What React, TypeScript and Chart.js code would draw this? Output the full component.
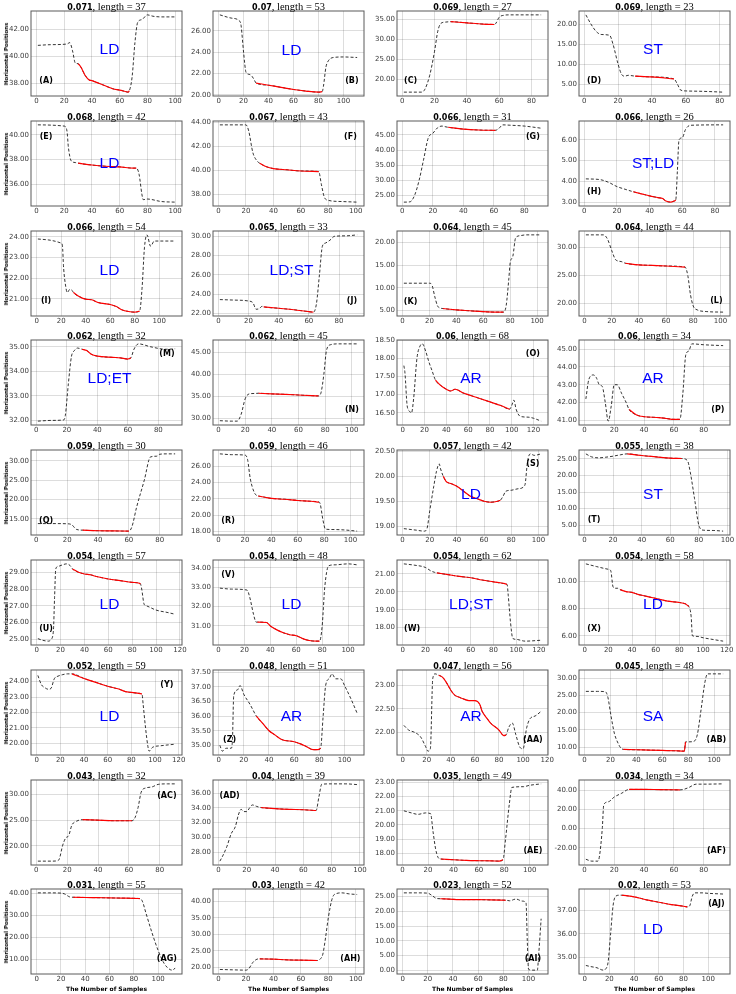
import React, { useEffect, useRef } from "react";
import { Chart, registerables } from "chart.js";
Chart.register(...registerables);

// ---------------- DATA ----------------
const letters = ["A","B","C","D","E","F","G","H","I","J","K","L","M","N","O","P","Q","R","S","T","U","V","W","X","Y","Z","AA","AB","AC","AD","AE","AF","AG","AH","AI","AJ"];
const scores = ["0.071","0.07","0.069","0.069","0.068","0.067","0.066","0.066","0.066","0.065","0.064","0.064","0.062","0.062","0.06","0.06","0.059","0.059","0.057","0.055","0.054","0.054","0.054","0.054","0.052","0.048","0.047","0.045","0.043","0.04","0.035","0.034","0.031","0.03","0.023","0.02"];
const lengths = [37,53,27,23,42,43,31,26,54,33,45,44,32,45,68,34,30,46,42,38,57,48,62,58,59,51,56,48,32,39,49,34,55,42,52,53];
const tags = ["LD","LD","","ST","LD","","","ST;LD","LD","LD;ST","","","LD;ET","","AR","AR","","","LD","ST","LD","LD","LD;ST","LD","LD","AR","AR","SA","","","","","","","","LD"];
const yTickSteps = [2,2,5,5,2,2,5,1,1,2,5,5,1,5,0.5,1,5,2,0.5,5,1,1,1,2,1,0.5,0.5,5,5,2,1,20,10,5,5,1];
const xTickStep = 20;
const redStart = 30;

const sA = [[1,40.8],[10,40.85],[22,40.9],[24,41.0],[26,40.4],[28,39.5],[30,39.45],[32,39.2],[35,38.6],[38,38.25],[40,38.2],[45,38.0],[50,37.8],[55,37.6],[60,37.5],[64,37.4],[66,37.35],[67,37.45],[69,38.5],[71,41.0],[73,42.5],[76,42.7],[80,43.05],[84,42.95],[90,42.9],[100,42.9]];
const sB = [[1,27.5],[10,27.2],[17,26.9],[18,26.5],[20,24.0],[22,22.1],[25,21.9],[27,21.7],[29,21.3],[30,21.1],[40,20.9],[50,20.7],[60,20.5],[70,20.35],[80,20.25],[83,20.3],[84,20.8],[86,22.6],[88,23.2],[92,23.5],[100,23.55],[111,23.5]];
const sC = [[1,16.8],[12,16.8],[14,17.5],[17,21],[20,27],[22,32],[24,34],[27,34.3],[30,34.4],[40,34.1],[50,33.8],[57,33.7],[58,34],[60,35.5],[63,36],[66,36.1],[86,36.1]];
const sD = [[1,22.3],[4,20],[7,18.2],[10,17.4],[15,17.2],[17,15],[20,10],[22,7.5],[24,7],[26,7.2],[30,7.0],[40,6.8],[53,6.3],[55,5],[57,3.5],[60,3.3],[70,3.2],[82,3.0]];
const sE = [[1,40.8],[20,40.7],[22,40.3],[23,39],[25,37.9],[28,37.75],[30,37.7],[40,37.55],[50,37.45],[60,37.4],[70,37.3],[72,37.3],[74,36.8],[76,35.2],[77,34.75],[80,34.8],[90,34.6],[100,34.55]];
const sF = [[1,43.8],[20,43.8],[22,43.3],[25,41.5],[28,40.8],[30,40.6],[35,40.3],[40,40.15],[50,40.05],[60,39.95],[73,39.9],[75,38.8],[77,37.8],[80,37.5],[90,37.4],[101,37.35]];
const sG = [[1,22.8],[5,22.9],[8,25],[11,30],[14,37],[17,44],[20,45.5],[23,47.3],[26,47.9],[28,47.7],[30,47.5],[40,46.9],[50,46.6],[61,46.5],[63,47],[66,48.3],[70,48.2],[80,47.9],[91,47.2]];
const sH = [[1,4.12],[10,4.08],[15,3.95],[20,3.75],[25,3.62],[30,3.5],[35,3.4],[40,3.3],[45,3.22],[48,3.17],[50,3.05],[53,3.0],[55,3.05],[56,3.1],[57,4.5],[58,6.0],[60,6.1],[62,6.5],[65,6.7],[85,6.72]];
const sI = [[1,23.9],[10,23.85],[20,23.7],[21,23.6],[22,22.5],[24,21.5],[25,21.3],[27,21.45],[29,21.4],[30,21.3],[35,21.1],[40,20.98],[45,20.95],[50,20.82],[60,20.72],[65,20.62],[70,20.45],[75,20.38],[80,20.35],[84,20.4],[86,21.5],[88,23.5],[90,24.1],[93,23.55],[96,23.8],[100,23.8],[113,23.8]];
const sJ = [[1,23.45],[10,23.4],[20,23.3],[23,23.1],[25,22.45],[27,22.5],[29,22.75],[30,22.7],[40,22.55],[50,22.4],[60,22.2],[63,22.15],[65,23],[67,26],[69,29.0],[71,29.3],[74,29.6],[77,30.0],[85,30.05],[92,30.15]];
const sK = [[1,11.0],[20,11.0],[22,10.5],[24,8],[26,6],[28,5.5],[30,5.4],[40,5.1],[50,4.9],[60,4.7],[70,4.6],[75,4.6],[77,6],[79,12],[80,15.5],[82,17],[84,21],[87,21.5],[92,21.7],[103,21.7]];
const sL = [[1,32.3],[14,32.3],[17,31.5],[20,29.5],[23,27.8],[27,27.5],[30,27.2],[40,26.9],[50,26.8],[60,26.7],[74,26.5],[76,25],[78,21.5],[80,19.5],[83,18.8],[90,18.5],[102,18.4]];
const sM = [[1,31.97],[10,32.0],[18,32.02],[19,32.2],[21,33.5],[23,34.6],[25,34.85],[27,34.95],[30,34.9],[33,34.85],[36,34.7],[40,34.62],[50,34.57],[55,34.55],[60,34.5],[62,34.55],[64,34.9],[67,35.12],[75,35.0],[85,34.9],[91,34.92]];
const sN = [[1,29.5],[10,29.4],[14,29.4],[17,31],[20,34.5],[23,35.6],[27,35.7],[30,35.75],[40,35.6],[50,35.5],[60,35.35],[70,35.2],[75,35.15],[77,36],[79,40],[81,45.5],[84,46.8],[90,47],[104,47]];
const sO = [[1,17.8],[2,17.6],[4,16.7],[6,16.55],[8,16.5],[10,16.9],[13,18.0],[16,18.35],[18,18.4],[21,18.2],[24,17.9],[27,17.65],[30,17.4],[35,17.25],[40,17.15],[44,17.1],[48,17.15],[51,17.12],[55,17.05],[60,17.0],[65,16.95],[70,16.9],[80,16.8],[90,16.7],[98,16.6],[100,16.7],[102,16.85],[104,16.6],[108,16.4],[115,16.38],[120,16.35],[127,16.27]];
const sP = [[1,42.2],[3,43.3],[6,43.55],[8,43.4],[10,43.0],[12,42.9],[14,42],[16,40.95],[18,41.8],[20,43.0],[22,43.0],[25,42.5],[28,42.0],[30,41.6],[35,41.3],[40,41.2],[50,41.15],[55,41.1],[60,41.05],[64,41.05],[66,42.5],[68,44.7],[70,44.9],[72,45.3],[80,45.25],[93,45.2]];
const sQ = [[1,13.8],[10,13.8],[20,13.75],[23,13.5],[26,12.3],[30,12.1],[40,11.95],[50,11.9],[60,11.85],[62,13],[65,18],[70,25],[74,31],[78,31.2],[80,31.7],[85,31.8],[90,31.8]];
const sR = [[1,27.5],[10,27.4],[20,27.35],[22,26.8],[24,24.5],[27,22.8],[29,22.4],[30,22.35],[35,22.2],[40,22.05],[50,21.95],[60,21.8],[70,21.7],[76,21.6],[77,21.4],[79,19.5],[81,18.3],[85,18.25],[95,18.2],[105,18.05]];
const sS = [[1,18.95],[10,18.92],[16,18.9],[18,18.95],[20,19.3],[23,19.8],[25,20.1],[27,20.25],[28,20.15],[30,20.0],[32,19.9],[36,19.85],[40,19.8],[45,19.7],[50,19.6],[55,19.55],[60,19.5],[65,19.48],[70,19.5],[72,19.52],[74,19.6],[76,19.7],[80,19.72],[85,19.75],[90,19.82],[92,20.3],[94,20.45],[97,20.42],[102,20.45]];
const sT = [[1,26.5],[5,25.6],[10,25.3],[15,25.5],[20,25.8],[25,26.2],[30,26.5],[40,26.0],[50,25.6],[60,25.2],[68,25.1],[72,24.5],[74,21],[77,13],[80,5],[83,3.5],[90,3.4],[97,3.2]];
const sU = [[1,25.05],[5,24.95],[10,24.9],[12,25],[14,25.5],[15,27.5],[16,29.2],[18,29.35],[22,29.45],[25,29.5],[28,29.4],[30,29.2],[35,29.0],[40,28.9],[45,28.85],[50,28.75],[60,28.6],[70,28.5],[80,28.4],[86,28.35],[87,28.3],[88,28.0],[90,27.1],[92,27.0],[100,26.75],[110,26.6],[116,26.5]];
const sV = [[1,32.95],[10,32.9],[22,32.85],[24,32.5],[27,31.6],[29,31.2],[30,31.2],[37,31.18],[40,31.0],[45,30.8],[50,30.65],[55,30.55],[60,30.5],[65,30.35],[70,30.25],[76,30.22],[78,30.22],[80,31],[82,33],[85,34.1],[90,34.15],[100,34.2],[107,34.15]];
const sW = [[1,21.55],[10,21.48],[20,21.35],[25,21.15],[28,21.08],[30,21.05],[40,20.95],[50,20.85],[60,20.78],[70,20.65],[80,20.55],[90,20.45],[92,20.4],[93,19.8],[95,18.3],[97,17.4],[100,17.35],[108,17.25],[122,17.3]];
const sX = [[1,11.3],[10,11.1],[20,10.9],[22,10.8],[24,9.6],[26,9.5],[28,9.5],[30,9.4],[35,9.25],[40,9.2],[45,9.05],[50,8.95],[55,8.85],[60,8.75],[70,8.55],[80,8.45],[85,8.35],[88,8.15],[90,7.4],[91,6.0],[95,5.95],[100,5.85],[110,5.7],[117,5.6]];
const sY = [[1,24.4],[4,23.8],[7,23.6],[10,23.5],[12,23.55],[15,24.2],[18,24.35],[22,24.45],[26,24.5],[30,24.5],[40,24.2],[50,23.95],[60,23.7],[65,23.6],[70,23.5],[75,23.35],[80,23.3],[85,23.25],[89,23.2],[90,22.5],[92,21],[94,19.8],[95,19.5],[98,19.75],[105,19.85],[117,19.95]];
const sZ = [[1,35.0],[3,34.8],[6,34.9],[10,34.9],[11,35.2],[12,36.7],[15,36.9],[17,37.05],[20,36.75],[25,36.4],[30,36.0],[35,35.75],[40,35.5],[45,35.35],[50,35.2],[60,35.12],[65,35.05],[70,34.95],[75,34.85],[79,34.85],[81,34.9],[83,36],[85,37.05],[88,37.3],[90,37.45],[93,37.28],[97,37.28],[100,37.05],[105,36.6],[110,36.1]];
const sAA = [[1,22.15],[5,22.05],[10,22.0],[15,21.9],[19,21.7],[21,21.6],[23,21.65],[25,23.15],[27,23.25],[30,23.22],[33,23.18],[36,23.08],[40,22.9],[43,22.8],[47,22.75],[50,22.72],[55,22.68],[60,22.68],[64,22.6],[66,22.45],[70,22.3],[73,22.2],[80,22.05],[84,21.93],[86,21.95],[88,22.1],[91,22.2],[94,21.95],[97,21.7],[100,21.65],[103,22.1],[106,22.3],[110,22.35],[115,22.45]];
const sAB = [[1,26.2],[10,26.2],[16,26.1],[18,24.5],[20,20],[23,14],[26,11],[28,9.7],[30,9.3],[40,9.2],[50,9.1],[60,9.0],[70,8.9],[77,8.8],[78,11.5],[80,11.5],[84,11.6],[87,13.5],[90,21],[93,29],[95,31.3],[100,31.3],[107,31.3]];
const sAC = [[1,17.0],[10,17.0],[14,17.1],[15,17.5],[17,20],[19,21.5],[21,22],[23,24],[26,24.8],[30,25.1],[40,25.0],[50,24.9],[62,24.9],[64,25.5],[66,27.5],[68,30.5],[71,31.3],[75,31.5],[79,32.0],[85,32.1],[90,32.1]];
const sAD = [[1,26.8],[3,27.5],[6,28.8],[9,30.5],[12,31.5],[14,33],[16,33.8],[18,33.5],[20,33.5],[22,34.0],[24,34.4],[27,34.2],[30,34.05],[40,33.9],[50,33.8],[60,33.75],[69,33.65],[71,35.5],[73,37.2],[80,37.25],[90,37.25],[98,37.15]];
const sAE = [[1,21.0],[7,20.85],[12,20.75],[18,20.85],[22,20.8],[24,19.5],[26,18.3],[28,17.7],[30,17.6],[40,17.55],[50,17.5],[60,17.48],[70,17.47],[76,17.45],[79,17.55],[81,19],[84,21.5],[86,22.65],[95,22.7],[100,22.8],[109,22.9]];
const sAF = [[1,-32],[5,-34],[9,-34],[10,-30],[12,0],[13,25],[16,28],[20,33],[25,37],[30,41],[40,41.0],[50,40.8],[64,40.5],[66,40.8],[70,43],[75,46.5],[80,46.5],[93,46.8]];
const sAG = [[1,40.3],[10,40.3],[20,40.2],[23,39.8],[27,38.5],[30,38.3],[40,38.2],[50,38.1],[60,38.0],[70,37.9],[80,37.8],[85,37.7],[87,36.5],[90,31],[95,22],[100,14],[105,8],[110,5.2],[112,5.0],[114,6.0]];
const sAH = [[1,19.4],[10,19.3],[20,19.2],[22,19.6],[25,21.5],[28,22.5],[30,22.6],[40,22.5],[50,22.3],[60,22.2],[72,22.1],[74,22.5],[76,24],[78,29],[80,35],[83,41],[86,42.3],[90,42.5],[95,42.2],[101,42.0]];
const sAI = [[1,26.3],[10,26.3],[20,26.2],[23,25.5],[27,24.4],[30,24.3],[40,24.1],[50,24.0],[60,24.0],[70,23.9],[82,23.8],[85,23.6],[90,24.2],[95,23.5],[98,22.9],[99,10],[100,0.3],[103,0.0],[107,0.0],[108,5],[110,17.5]];
const sAJ = [[1,34.65],[5,34.6],[10,34.55],[15,34.45],[17,34.5],[19,34.8],[21,36.0],[23,37.2],[25,37.6],[28,37.65],[30,37.65],[35,37.62],[40,37.58],[45,37.52],[50,37.45],[55,37.4],[60,37.35],[70,37.25],[80,37.18],[83,37.15],[85,37.2],[87,37.6],[89,37.75],[95,37.75],[100,37.73],[112,37.7]];

const seriesList = [sA,sB,sC,sD,sE,sF,sG,sH,sI,sJ,sK,sL,sM,sN,sO,sP,sQ,sR,sS,sT,sU,sV,sW,sX,sY,sZ,sAA,sAB,sAC,sAD,sAE,sAF,sAG,sAH,sAI,sAJ];

// ---------------- LAYOUT ----------------
const BOX_LEFT = [31, 213, 397, 579];
const BOX_W = 151;
const BOX_H = 85;
const BOX_TOP0 = 11;
const ROW_PITCH = 109.8;
const AXIS_W = 31;
const PAD_T = 6;
const PAD_R = 8;
const XAXIS_H = 14;

// tag (blue label) and letter positions in axes fractions [fx, fy from top]
const tagPos = [[.52,.46],[.52,.47],null,[.49,.46],[.52,.5],null,null,[.49,.5],[.52,.47],[.52,.47],null,null,[.52,.46],null,[.49,.46],[.49,.46],null,null,[.49,.53],[.49,.53],[.52,.53],[.52,.53],[.49,.53],[.49,.53],[.52,.55],[.52,.55],[.49,.55],[.49,.55],null,null,null,null,null,null,null,[.49,.48]];
const letterPos = [[.10,.82],[.92,.82],[.09,.82],[.10,.82],[.10,.19],[.91,.19],[.90,.19],[.10,.84],[.10,.82],[.92,.82],[.09,.83],[.91,.82],[.90,.16],[.92,.82],[.90,.16],[.92,.82],[.10,.83],[.10,.83],[.90,.16],[.10,.82],[.10,.81],[.10,.17],[.10,.81],[.10,.81],[.90,.18],[.11,.82],[.90,.82],[.91,.82],[.90,.19],[.11,.19],[.90,.83],[.91,.83],[.90,.82],[.91,.82],[.90,.82],[.91,.17]];

const decorPlugin = {
  id: "panelDecor",
  afterDatasetsDraw(chart: any, _args: any, opts: any) {
    const { ctx, chartArea: a } = chart;
    ctx.save();
    ctx.strokeStyle = "#5a5a5a";
    ctx.lineWidth = 1;
    ctx.strokeRect(a.left, a.top, a.right - a.left, a.bottom - a.top);
    const w = a.right - a.left, h = a.bottom - a.top;
    ctx.textAlign = "center";
    ctx.textBaseline = "middle";
    if (opts.tag && opts.tagPos) {
      ctx.fillStyle = "#0000ff";
      ctx.font = '15.5px "Liberation Sans", Arial, sans-serif';
      ctx.fillText(opts.tag, a.left + opts.tagPos[0] * w, a.top + opts.tagPos[1] * h);
    }
    if (opts.letter) {
      ctx.fillStyle = "#000";
      ctx.font = 'bold 8px "DejaVu Sans", sans-serif';
      ctx.fillText("(" + opts.letter + ")", a.left + opts.letterPos[0] * w, a.top + opts.letterPos[1] * h);
    }
    ctx.restore();
  },
};

function Panel({ i }: { i: number }) {
  const ref = useRef<HTMLCanvasElement>(null);
  const row = Math.floor(i / 4), col = i % 4;
  const boxL = BOX_LEFT[col];
  const boxT = Math.round(BOX_TOP0 + ROW_PITCH * row);
  const CW = AXIS_W + BOX_W + PAD_R;
  const CH = PAD_T + BOX_H + XAXIS_H;

  useEffect(() => {
    const pts = seriesList[i];
    const xs = pts.map((p) => p[0]);
    const ys = pts.map((p) => p[1]);
    const x0 = Math.min(...xs), x1 = Math.max(...xs);
    const y0 = Math.min(...ys), y1 = Math.max(...ys);
    const mx = (x1 - x0) * 0.05, my = (y1 - y0) * 0.05;
    const xmin = x0 - mx, xmax = x1 + mx, ymin = y0 - my, ymax = y1 + my;
    const step = yTickSteps[i];
    const yt: number[] = [];
    for (let k = Math.ceil(ymin / step - 1e-9); k * step <= ymax + 1e-9; k++) yt.push(+(k * step).toFixed(4));
    const xt: number[] = [];
    for (let v = 0; v <= xmax; v += xTickStep) if (v >= xmin) xt.push(v);
    const end = redStart + lengths[i];
    const black = pts.map(([x, y]) => ({ x, y }));
    const red = pts.filter(([x]) => x >= redStart && x <= end).map(([x, y]) => ({ x, y }));

    const tickFont = { family: "DejaVu Sans", size: 7 };
    const chart = new Chart(ref.current as HTMLCanvasElement, {
      type: "line",
      data: {
        datasets: [
          { data: red, borderColor: "#ff0000", borderWidth: 1.15, pointRadius: 0, cubicInterpolationMode: "monotone", order: 0 },
          { data: black, borderColor: "#000000", borderWidth: 0.8, borderDash: [3, 2], pointRadius: 0, cubicInterpolationMode: "monotone", order: 1 },
        ],
      } as any,
      options: {
        animation: false,
        responsive: false,
        devicePixelRatio: window.devicePixelRatio || 1,
        layout: { padding: { top: PAD_T, right: PAD_R, left: 0, bottom: 0 } },
        plugins: {
          legend: { display: false },
          tooltip: { enabled: false },
          title: { display: false },
          panelDecor: { tag: tags[i], tagPos: tagPos[i], letter: letters[i], letterPos: letterPos[i] },
        } as any,
        scales: {
          x: {
            type: "linear",
            min: xmin,
            max: xmax,
            afterBuildTicks: (s: any) => { s.ticks = xt.map((v) => ({ value: v })); },
            afterFit: (s: any) => { s.height = XAXIS_H; s.paddingLeft = 0; s.paddingRight = 0; },
            ticks: { font: tickFont, color: "#3a3a3a", padding: 1, maxRotation: 0, autoSkip: false, callback: (v: any) => String(v) },
            grid: { color: "rgba(0,0,0,0.17)", lineWidth: 0.8, drawTicks: false },
            border: { display: false },
          },
          y: {
            type: "linear",
            min: ymin,
            max: ymax,
            afterBuildTicks: (s: any) => { s.ticks = yt.map((v) => ({ value: v })); },
            afterFit: (s: any) => { s.width = AXIS_W; s.paddingTop = 0; s.paddingBottom = 0; },
            ticks: { font: tickFont, color: "#3a3a3a", padding: 2, autoSkip: false, callback: (v: any) => Number(v).toFixed(2) },
            grid: { color: "rgba(0,0,0,0.17)", lineWidth: 0.8, drawTicks: false },
            border: { display: false },
          },
        } as any,
      },
      plugins: [decorPlugin as any],
    });
    return () => chart.destroy();
  }, [i]);

  return (
    <>
      <canvas
        ref={ref}
        width={CW}
        height={CH}
        style={{ position: "absolute", left: boxL - AXIS_W, top: boxT - PAD_T, width: CW, height: CH }}
      />
      <div
        style={{
          position: "absolute", left: boxL - 20, width: BOX_W + 40, top: boxT - 13, height: 13,
          lineHeight: "13px", textAlign: "center", whiteSpace: "pre", color: "#000",
        }}
      >
        <span style={{ fontFamily: '"DejaVu Sans", sans-serif', fontWeight: "bold", fontSize: "8px" }}>{scores[i]}</span>
        <span style={{ fontFamily: '"Liberation Serif", serif', fontSize: "10.5px" }}>{", length = " + lengths[i]}</span>
      </div>
      {col === 0 && (
        <div
          style={{
            position: "absolute", left: 5.5, top: boxT + BOX_H / 2, transform: "translate(-50%, -50%) rotate(-90deg)",
            fontFamily: '"DejaVu Sans", sans-serif', fontWeight: "bold", fontSize: "5.5px", whiteSpace: "nowrap", color: "#000",
          }}
        >
          Horizontal Positions
        </div>
      )}
      {row === 8 && (
        <div
          style={{
            position: "absolute", left: boxL + BOX_W / 2, top: 988, transform: "translate(-50%, -50%)",
            fontFamily: '"DejaVu Sans", sans-serif', fontWeight: "bold", fontSize: "6px", whiteSpace: "nowrap", color: "#000",
          }}
        >
          The Number of Samples
        </div>
      )}
    </>
  );
}

export default function App() {
  useEffect(() => {
    document.body.style.margin = "0";
  }, []);
  return (
    <div style={{ position: "absolute", left: 0, top: 0, width: 736, height: 994, background: "#fff", overflow: "hidden" }}>
      {seriesList.map((_, i) => (
        <Panel key={i} i={i} />
      ))}
    </div>
  );
}
